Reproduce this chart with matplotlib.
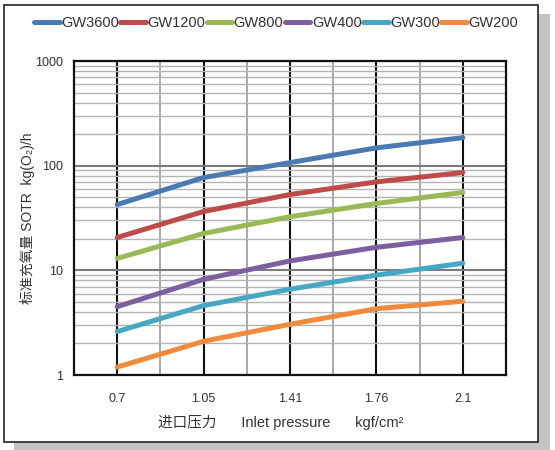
import numpy as np
import matplotlib
matplotlib.use("Agg")
import matplotlib.pyplot as plt
from matplotlib.patches import Rectangle
from matplotlib.ticker import FixedLocator, NullFormatter

plt.rcParams['font.family'] = ['Liberation Sans', 'Noto Sans CJK SC', 'DejaVu Sans']

# data
pressures = ["0.7", "1.05", "1.41", "1.76", "2.1"]
models = ["GW3600", "GW1200", "GW800", "GW400", "GW300", "GW200"]
gw3600 = [42.5, 77, 107, 148, 185]
gw1200 = [20.6, 36.5, 53, 70, 86]
gw800 = [13.0, 22.5, 32.5, 43.5, 55.5]
gw400 = [4.5, 8.2, 12.3, 16.6, 20.6]
gw300 = [2.6, 4.6, 6.6, 9.0, 11.7]
gw200 = [1.19, 2.1, 3.05, 4.3, 5.07]
series = [gw3600, gw1200, gw800, gw400, gw300, gw200]
colors = ["#4a7ab4", "#be4b48", "#98b954", "#7d5fa0", "#46a8c4", "#f08a3c"]

fig = plt.figure(figsize=(5.55, 4.5), dpi=100)
W, H = 555.0, 450.0

# frame with shadow
fig.patches.append(Rectangle((14 / W, 0), 536 / W, 436 / H, transform=fig.transFigure,
                             facecolor="#c4c4c4", edgecolor="none", zorder=0))
fig.patches.append(Rectangle((4 / W, 8 / H), 534 / W, 437 / H, transform=fig.transFigure,
                             facecolor="white", edgecolor="#333333", linewidth=1.3, zorder=1))

ax = fig.add_axes([74 / W, 1 - 375 / H, 432 / W, 314 / H])
ax.set_zorder(2)
x = np.arange(len(pressures))
for vals, name, c in zip(series, models, colors):
    ax.plot(x, vals, color=c, lw=3.6, solid_capstyle="round", label=name, zorder=3)

ax.set_yscale("log")
ax.set_ylim(1, 1000)
ax.set_xlim(-0.5, len(pressures) - 0.5)
ax.set_xticks(x)
ax.set_xticklabels(pressures)
ax.xaxis.set_minor_locator(FixedLocator(x[:-1] + 0.5))
ax.set_yticks([1, 10, 100, 1000])
ax.set_yticklabels(["1", "10", "100", "1000"])
ax.yaxis.set_minor_formatter(NullFormatter())
ax.tick_params(which="both", length=0)
ax.tick_params(axis="x", pad=13, labelsize=9, labelcolor="#333333")
ax.tick_params(axis="y", pad=8, labelsize=9, labelcolor="#333333")

ax.grid(True, axis="x", which="major", color="#111111", lw=1.5)
ax.grid(True, axis="x", which="minor", color="#999999", lw=1.2)
ax.grid(True, axis="y", which="major", color="#7a7a7a", lw=1.5)
ax.grid(True, axis="y", which="minor", color="#b4b4b4", lw=1.0)
ax.set_axisbelow(True)
for s in ax.spines.values():
    s.set_color("#111111")
    s.set_linewidth(1.6)

fig.text(28 / W, 1 - 218 / H, "标准充氧量 SOTR  kg(O\u2082)/h", rotation=90,
         ha="center", va="center", fontsize=10, color="#333333")
fig.text(281 / W, 1 - 423 / H, "进口压力      Inlet pressure      kgf/cm\u00b2",
         ha="center", va="center", fontsize=10.5, color="#333333")

fig.legend(loc="center", bbox_to_anchor=(276 / W, 1 - 23 / H), ncol=6, frameon=False,
           fontsize=10.5, handlelength=1.75, handletextpad=0.1, columnspacing=0.1,
           labelcolor="#333333")

fig.savefig("out.png", dpi=100)
